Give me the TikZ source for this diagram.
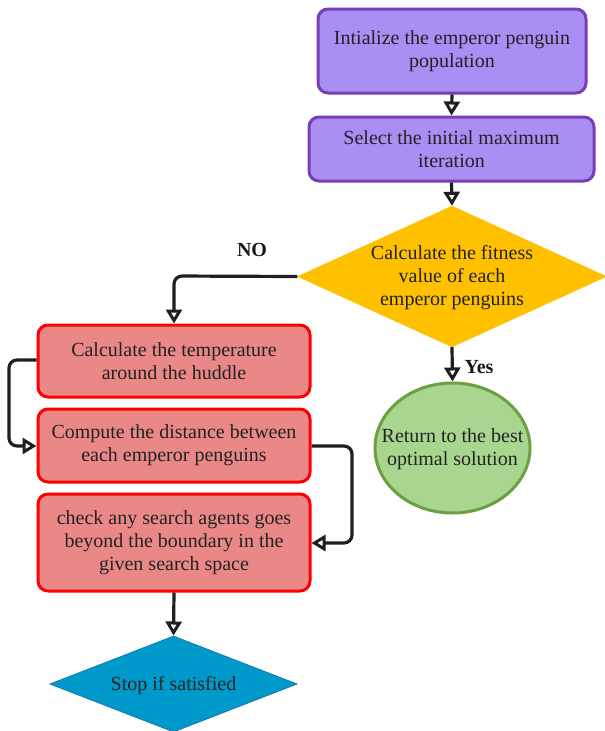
\documentclass[tikz,border=0pt]{standalone}
\usepackage{fontspec}
\setmainfont{Liberation Serif}
\usetikzlibrary{shapes.geometric,arrows.meta}
\definecolor{purfill}{HTML}{A98EF4}
\definecolor{purdraw}{HTML}{7A3DB8}
\definecolor{redfill}{HTML}{EA8888}
\definecolor{reddraw}{HTML}{FF0000}
\definecolor{gold}{HTML}{FFC000}
\definecolor{grfill}{HTML}{A9D68E}
\definecolor{grdraw}{HTML}{6C9F43}
\definecolor{blfill}{HTML}{0099CC}
\definecolor{bldraw}{HTML}{1A7FAA}
\definecolor{txt}{HTML}{222222}
\begin{document}
\begin{tikzpicture}[x=1pt,y=-1pt,
  every node/.style={font=\fontsize{20}{23}\selectfont, text=txt, align=center},
  purbox/.style={draw=purdraw, fill=purfill, line width=3pt, rounded corners=10pt, inner sep=0pt},
  redbox/.style={draw=reddraw, fill=redfill, line width=3pt, rounded corners=10pt, inner sep=0pt},
  conn/.style={draw=black!88, line width=3.2pt, rounded corners=8pt, -{Triangle[open, length=14pt, width=16pt, line width=3pt]}},
  lbl/.style={font=\fontsize{20}{23}\selectfont\bfseries, text=black!90}
]
\useasboundingbox (0,0) rectangle (605,731);
\node[purbox, minimum width=268pt, minimum height=84pt] (b1) at (452,51) {Intialize the emperor penguin\\population};
\node[purbox, minimum width=285pt, minimum height=64pt] (b2) at (451.5,149) {Select the initial maximum\\iteration};
\node[diamond, fill=gold, draw=gold, aspect=2.19, minimum width=309pt, minimum height=141pt, inner sep=0pt] (d1) at (452,276.5) {};
\node (d1t) at ([yshift=-1.5pt]d1.center) {Calculate the fitness\\value of each\\emperor penguins};
\node[ellipse, fill=grfill, draw=grdraw, line width=3pt, minimum width=155pt, minimum height=130pt, inner sep=0pt] (e1) at (452.5,448) {};
\node (e1t) at ([yshift=-1.5pt]e1.center) {Return to the best\\optimal solution};
\node[redbox, minimum width=272pt, minimum height=72pt] (r1) at (174,361) {Calculate the temperature\\around the huddle};
\node[redbox, minimum width=272pt, minimum height=73pt] (r2) at (174,445.5) {Compute the distance between\\each emperor penguins};
\node[redbox, minimum width=272pt, minimum height=97pt] (r3) at (174,542.5) {check any search agents goes\\beyond the boundary in the\\given search space};
\node[diamond, fill=blfill, draw=bldraw, line width=1pt, aspect=2.6, minimum width=247pt, minimum height=96pt, inner sep=0pt] (d2) at (173.5,684) {};
\node (d2t) at ([yshift=-2pt]d2.center) {Stop if satisfied};
\coordinate (nc) at (174,276);
\coordinate (lc1) at (9,360);
\coordinate (lc2) at (9,446);
\coordinate (rc1) at (352,446);
\coordinate (rc2) at (352,543);
\draw[conn] (b1.south) -- (b2.north);
\draw[conn] (b2.south) -- (d1.north);
\draw[conn] (d1.west) -- (nc) -- (r1.north);
\draw[conn] (d1.south) -- (e1.north);
\draw[conn] (r1.west |- lc1) -- (lc1) -- (lc2) -- (r2.west |- lc2);
\draw[conn] (r2.east |- rc1) -- (rc1) -- (rc2) -- (r3.east |- rc2);
\draw[conn] (r3.south) -- (d2.north);
\node[lbl] (no) at (252,250) {NO};
\node[lbl] (yes) at (479,367) {Yes};
\end{tikzpicture}
\end{document}
